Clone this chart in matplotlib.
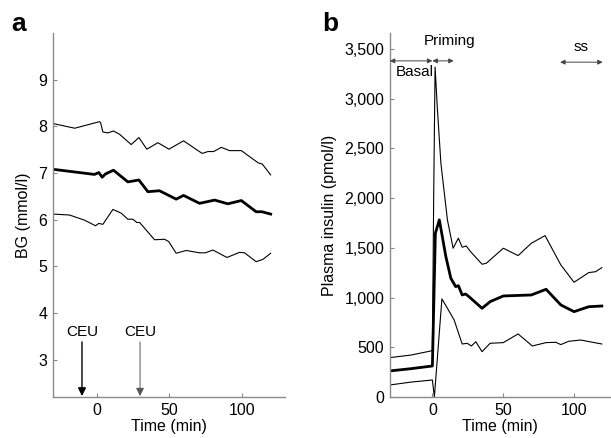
import matplotlib
matplotlib.use("Agg")
import matplotlib.pyplot as plt
from matplotlib.ticker import FuncFormatter

plt.rcParams["font.family"] = ["Liberation Sans", "DejaVu Sans"]
plt.rcParams["font.size"] = 11.5

# ---- panel a: blood glucose (mmol/l) ----
bg_hi_t = [-30, -15, 2, 2.8, 4.4, 7.8, 11.7, 15.9, 23.9, 29.2, 34.7, 42.3, 49.9, 60,
           72.8, 76.8, 80.7, 86, 91.7, 99.8, 111.3, 114.3, 120]
bg_hi = [8.06, 7.96, 8.10, 8.08, 7.88, 7.86, 7.90, 7.83, 7.61, 7.76, 7.51, 7.65, 7.51, 7.69,
         7.42, 7.46, 7.46, 7.55, 7.48, 7.48, 7.22, 7.19, 6.96]

bg_mean_t = [-30, -1.4, 1.6, 3.9, 6.2, 11.7, 21.6, 29.2, 35.4, 43.4, 54.9, 60, 71, 81.4,
             90.5, 99.8, 110, 114, 120]
bg_mean = [7.08, 6.97, 7.01, 6.91, 6.98, 7.06, 6.81, 6.85, 6.60, 6.62, 6.44, 6.52, 6.35, 6.42,
           6.34, 6.41, 6.17, 6.17, 6.12]

bg_lo_t = [-30, -18.6, -8.3, -0.7, 1.6, 4.4, 11.3, 17, 21.6, 25, 27.8, 29.7, 40, 46.9, 49.8,
           54.9, 61.8, 71, 75, 80.2, 89.9, 98.6, 102, 110, 114.7, 120]
bg_lo = [6.12, 6.10, 5.99, 5.87, 5.92, 5.90, 6.22, 6.14, 6.01, 6.01, 5.94, 5.94, 5.57, 5.58, 5.53,
         5.28, 5.34, 5.29, 5.29, 5.35, 5.19, 5.30, 5.29, 5.10, 5.15, 5.28]

ceu_times = [-10, 30]

# ---- panel b: plasma insulin (pmol/l) ----
ins_hi_t = [-30, -15, 0, 0.9, 1.9, 3.5, 6, 10.6, 14.6, 18.3, 21, 23.8, 26.9, 35, 38, 50, 60.4,
            69.7, 79.4, 90.5, 99.8, 110.2, 115, 119.4]
ins_hi = [396, 422, 466, 2000, 3317, 2900, 2350, 1780, 1496, 1597, 1506, 1519, 1462, 1335, 1345,
          1496, 1422, 1546, 1623, 1328, 1154, 1251, 1260, 1301]

ins_mean_t = [-30, -15, 0, 2.1, 4.9, 9.5, 13, 16.4, 18.3, 21, 23.4, 25.7, 35, 40.7, 50,
              69.7, 80.1, 90.5, 99.8, 110.2, 119.4]
ins_mean = [262, 285, 312, 1647, 1781, 1411, 1194, 1110, 1120, 1026, 1036, 1010, 892, 959, 1016,
            1026, 1083, 926, 858, 908, 915]

ins_lo_t = [-30, -15, 0, 1.4, 6.7, 10.6, 15.3, 21, 24.5, 27.5, 30.6, 35, 40.7, 50, 60.4,
            70.4, 80.1, 87, 90.5, 96, 104.4, 119.4]
ins_lo = [121, 150, 171, 0, 986, 892, 775, 533, 540, 513, 556, 456, 540, 547, 634,
          513, 547, 550, 527, 560, 573, 533]

# period bars above the insulin curves
periods = [("Basal", -30, 0), ("Priming", 0, 15), ("ss", 90, 120)]

SPINE = "#8a8a8a"

fig = plt.figure(figsize=(6.11, 4.38), dpi=100)
ax_a = fig.add_axes([0.0867, 0.0936, 0.38, 0.831])
ax_b = fig.add_axes([0.638, 0.0936, 0.360, 0.831])

for ax in (ax_a, ax_b):
    for s in ("top", "right"):
        ax.spines[s].set_visible(False)
    for s in ("left", "bottom"):
        ax.spines[s].set_color(SPINE)
        ax.spines[s].set_linewidth(1.0)
    ax.tick_params(direction="in", length=3, width=0.8, color=SPINE, labelsize=11.5, pad=4)
    ax.set_xlabel("Time (min)", fontsize=11.5, labelpad=1)

# panel a
ax_a.plot(bg_hi_t, bg_hi, color="black", lw=0.8)
ax_a.plot(bg_mean_t, bg_mean, color="black", lw=2.0)
ax_a.plot(bg_lo_t, bg_lo, color="black", lw=0.8)
ax_a.set_xlim(-30, 130)
ax_a.set_ylim(2.2, 10)
ax_a.set_xticks([0, 50, 100])
ax_a.set_yticks([3, 4, 5, 6, 7, 8, 9])
ax_a.set_ylabel("BG (mmol/l)", fontsize=11.5, labelpad=5)

for i, t in enumerate(ceu_times):
    col = "black" if i == 0 else "#555555"
    ax_a.annotate("", xy=(t, 2.22), xytext=(t, 3.38),
                  arrowprops=dict(arrowstyle="-|>", color=col, lw=1.0 if i == 0 else 0.7,
                                  mutation_scale=12, shrinkA=0, shrinkB=0))
    ax_a.text(t, 3.6, "CEU", ha="center", va="center", fontsize=11)

fig.text(0.018, 0.945, "a", fontsize=19, fontweight="bold", ha="left", va="center")

# panel b
ax_b.plot(ins_hi_t, ins_hi, color="black", lw=0.8)
ax_b.plot(ins_mean_t, ins_mean, color="black", lw=2.0)
ax_b.plot(ins_lo_t, ins_lo, color="black", lw=0.8)
ax_b.set_xlim(-30, 125)
ax_b.set_ylim(0, 3660)
ax_b.set_xticks([0, 50, 100])
ax_b.set_yticks([0, 500, 1000, 1500, 2000, 2500, 3000, 3500])
ax_b.yaxis.set_major_formatter(FuncFormatter(lambda v, p: f"{int(v):,}"))
ax_b.set_ylabel("Plasma insulin (pmol/l)", fontsize=11.5, labelpad=5)

for name, t0, t1 in periods:
    y = 3380 if name != "ss" else 3367
    ax_b.annotate("", xy=(t1, y), xytext=(t0, y),
                  arrowprops=dict(arrowstyle="<|-|>", color="#444444", lw=0.7,
                                  mutation_scale=7, shrinkA=0, shrinkB=0))
ax_b.text(-12.5, 3265, "Basal", ha="center", va="center", fontsize=11)
ax_b.text(11.8, 3575, "Priming", ha="center", va="center", fontsize=11)
ax_b.text(105, 3520, "ss", ha="center", va="center", fontsize=11)

fig.text(0.528, 0.945, "b", fontsize=19, fontweight="bold", ha="left", va="center")

fig.savefig("out.png", dpi=100)
